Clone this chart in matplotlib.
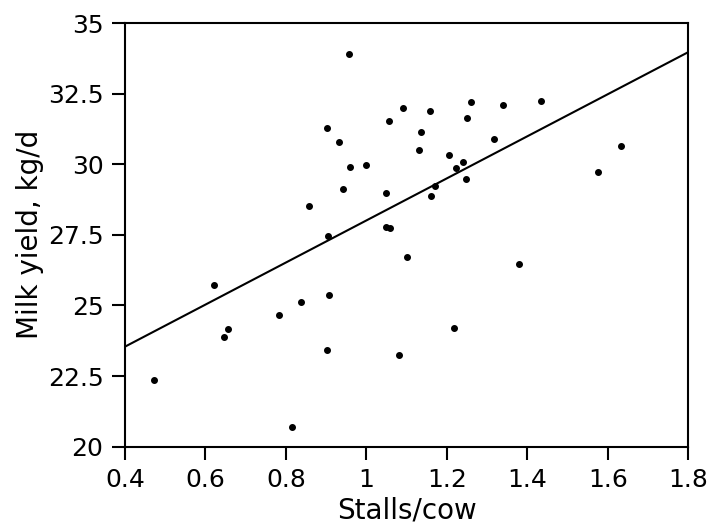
import numpy as np
import matplotlib
matplotlib.use("Agg")
import matplotlib.pyplot as plt

plt.rcParams['font.family'] = ['DejaVu Sans']

# Data
stalls_per_cow = [0.957, 1.090, 1.057, 0.903, 0.933, 0.958, 1.000, 0.943, 1.049, 0.857,
                  1.049, 1.059, 0.905, 1.158, 1.259, 1.339, 1.435, 1.250, 1.135, 1.131,
                  1.316, 1.204, 1.241, 1.222, 1.247, 1.170, 1.160, 1.633, 1.575, 1.100,
                  0.621, 0.908, 0.838, 0.783, 0.655, 0.647, 0.901, 1.081, 0.472, 0.816,
                  1.380, 1.217]
milk_yield = [33.89, 31.98, 31.54, 31.29, 30.80, 29.91, 29.96, 29.12, 28.98, 28.52,
              27.78, 27.74, 27.46, 31.88, 32.20, 32.08, 32.25, 31.62, 31.13, 30.50,
              30.90, 30.31, 30.08, 29.88, 29.48, 29.24, 28.87, 30.63, 29.73, 26.70,
              25.72, 25.37, 25.11, 24.67, 24.18, 23.89, 23.42, 23.24, 22.35, 20.69,
              26.48, 24.20]

# regression line (as drawn)
slope = 7.45
intercept = 20.56

x_ticks = [0.4, 0.6, 0.8, 1.0, 1.2, 1.4, 1.6, 1.8]
x_labels = ['0.4', '0.6', '0.8', '1', '1.2', '1.4', '1.6', '1.8']
y_ticks = [20, 22.5, 25, 27.5, 30, 32.5, 35]
y_labels = ['20', '22.5', '25', '27.5', '30', '32.5', '35']

fig = plt.figure(figsize=(7.2, 5.23), dpi=100)
ax = fig.add_axes([0.1736, 0.146, 0.7824, 0.81])

ax.scatter(stalls_per_cow, milk_yield, s=16, color='black', zorder=3)
x_fit = np.array([0.4, 1.8])
ax.plot(x_fit, slope * x_fit + intercept, color='black', lw=1.5)

ax.set_xlim(0.4, 1.8)
ax.set_ylim(20, 35)
ax.set_xticks(x_ticks)
ax.set_xticklabels(x_labels)
ax.set_yticks(y_ticks)
ax.set_yticklabels(y_labels)
ax.tick_params(direction='out', length=9.5, width=1.5, labelsize=18, pad=6,
               top=False, right=False)
for sp in ax.spines.values():
    sp.set_linewidth(1.5)

ax.set_xlabel('Stalls/cow', fontsize=20, labelpad=3)
ax.set_ylabel('Milk yield, kg/d', fontsize=20, labelpad=3)

fig.savefig('out.png', dpi=100)
